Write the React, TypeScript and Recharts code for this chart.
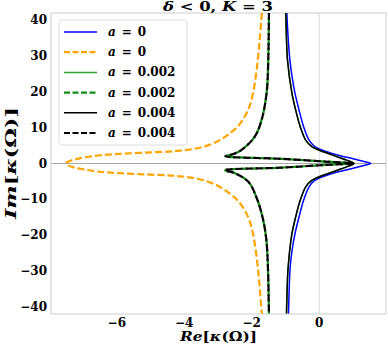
import { LineChart, Line, XAxis, YAxis, ReferenceLine } from "recharts";

// curves as [Re, Im] pairs, ordered from top (Im = +42) to bottom
const blueSolidA0: [number, number][] = [
  [-0.96, 42], [-0.92, 35], [-0.87, 28.9], [-0.8, 24], [-0.72, 19.7], [-0.6, 15],
  [-0.46, 10.2], [-0.3, 6.5], [-0.13, 4.7], [0.38, 2.8], [1.06, 1.2], [1.35, 0.5], [1.53, 0],
  [1.35, -0.5], [1.06, -1.2], [0.38, -2.8], [-0.13, -4.7], [-0.3, -6.5], [-0.46, -10.2],
  [-0.6, -15], [-0.72, -19.7], [-0.8, -24], [-0.86, -28.9], [-0.89, -35], [-0.91, -42],
];

const orangeDashedA0: [number, number][] = [
  [-1.7, 42], [-1.76, 35], [-1.82, 28.9], [-1.96, 19.7], [-2.11, 14.9], [-2.38, 10.7],
  [-2.64, 8.5], [-3.05, 6.0], [-3.55, 4.4], [-4.2, 3.5], [-5.0, 3.1], [-5.9, 2.7],
  [-6.5, 2.3], [-6.95, 1.7], [-7.25, 1.1], [-7.45, 0.5], [-7.5, 0],
  [-7.45, -0.5], [-7.25, -1.1], [-6.95, -1.7], [-6.5, -2.3], [-5.9, -2.7], [-5.0, -3.1],
  [-4.2, -3.5], [-3.55, -4.4], [-3.05, -6.0], [-2.64, -8.5], [-2.38, -10.7], [-2.11, -14.9],
  [-1.96, -19.7], [-1.82, -28.9], [-1.76, -35], [-1.7, -42],
];

const blackSolidA4: [number, number][] = [
  [-0.99, 42], [-0.97, 35], [-0.94, 28.9], [-0.81, 19.7], [-0.7, 15], [-0.56, 10.2],
  [-0.4, 6.5], [-0.22, 4.7], [0.38, 2.4], [0.85, 0.8], [1.03, 0], [0.85, -0.8], [0.38, -2.4],
  [-0.22, -4.7], [-0.4, -6.5], [-0.56, -10.2], [-0.7, -15], [-0.81, -19.7], [-0.92, -28.9],
  [-0.95, -35], [-0.97, -42],
];

const blackDashedA4: [number, number][] = [
  [-1.49, 42], [-1.51, 28.9], [-1.56, 19.6], [-1.71, 12.1], [-1.91, 7.5], [-2.3, 3.8],
  [-2.56, 2.6], [-2.78, 2.05], [-1.11, 1.3], [0.17, 0.55], [1.0, 0.05], [0.17, -0.4],
  [-1.11, -1.15], [-2.79, -1.9], [-2.5, -2.7], [-2.1, -5.1], [-1.85, -9.7], [-1.68, -15],
  [-1.57, -21], [-1.52, -28.9], [-1.49, -42],
];

// a = 0.002 lies on top of a = 0.004 at this scale
const greenSolidA2 = blackSolidA4;
const greenDashedA2 = blackDashedA4;

const xTicks = [-6, -4, -2, 0];
const yTicks = [-40, -30, -20, -10, 0, 10, 20, 30, 40];

const toPts = (arr: [number, number][]) => arr.map(([x, y]) => ({ x, y }));

// centripetal Catmull-Rom, passed to Line as a d3 curve factory
function catmullRom(context: any) {
  let pts: number[][] = [];
  const dist = (a: number[], b: number[]) => Math.sqrt(Math.hypot(a[0] - b[0], a[1] - b[1]));
  return {
    areaStart() {},
    areaEnd() {},
    lineStart() {
      pts = [];
    },
    point(x: number, y: number) {
      pts.push([+x, +y]);
    },
    lineEnd() {
      const n = pts.length;
      if (!n) return;
      context.moveTo(pts[0][0], pts[0][1]);
      for (let i = 0; i < n - 1; i++) {
        const p1 = pts[i];
        const p2 = pts[i + 1];
        const p0 = i > 0 ? pts[i - 1] : p1;
        const p3 = i + 2 < n ? pts[i + 2] : p2;
        const l01 = dist(p0, p1);
        const l12 = dist(p1, p2);
        const l23 = dist(p2, p3);
        let c1 = p1;
        let c2 = p2;
        if (l01 > 1e-6) {
          const a = 2 * l01 * l01 + 3 * l01 * l12 + l12 * l12;
          const m = 3 * l01 * (l01 + l12);
          c1 = [0, 1].map((k) => (p1[k] * a - p0[k] * l12 * l12 + p2[k] * l01 * l01) / m);
        }
        if (l23 > 1e-6) {
          const b = 2 * l23 * l23 + 3 * l23 * l12 + l12 * l12;
          const m = 3 * l23 * (l23 + l12);
          c2 = [0, 1].map((k) => (p2[k] * b + p1[k] * l23 * l23 - p3[k] * l12 * l12) / m);
        }
        context.bezierCurveTo(c1[0], c1[1], c2[0], c2[1], p2[0], p2[1]);
      }
    },
  };
}

const series = [
  { key: "blue", label: "0", pts: blueSolidA0, color: "#0000ff", dashed: false },
  { key: "orange", label: "0", pts: orangeDashedA0, color: "#ffa500", dashed: true },
  { key: "greenS", label: "0.002", pts: greenSolidA2, color: "#2ca02c", dashed: false },
  { key: "greenD", label: "0.002", pts: greenDashedA2, color: "#138a13", dashed: true },
  { key: "blackS", label: "0.004", pts: blackSolidA4, color: "#000000", dashed: false },
  { key: "blackD", label: "0.004", pts: blackDashedA4, color: "#000000", dashed: true },
];

const font = "'DejaVu Serif', serif";
const minus = (v: number) => (v < 0 ? "\u2212" + Math.abs(v) : String(v));

const XTick = (props: any) => (
  <text x={props.x} y={props.y + 11} textAnchor="middle" fontFamily={font} fontWeight="bold" fontSize={12} fill="#000">
    {minus(props.payload.value)}
  </text>
);

const YTick = (props: any) => (
  <text x={props.x - 2} y={props.y + 4} textAnchor="end" fontFamily={font} fontWeight="bold" fontSize={12} fill="#000">
    {minus(props.payload.value)}
  </text>
);

export default function App() {
  return (
    <div style={{ position: "absolute", left: 0, top: 0, width: 388, height: 346, background: "#fff" }}>
      <LineChart width={388} height={346} margin={{ top: 13, right: 2, bottom: 0, left: 0 }}>
        <XAxis
          type="number"
          dataKey="x"
          domain={[-7.95, 1.98]}
          allowDataOverflow
          ticks={xTicks}
          tick={XTick}
          tickLine={false}
          tickSize={0}
          height={32}
          axisLine={{ stroke: "#cccccc" }}
        />
        <YAxis
          type="number"
          domain={[-42, 42]}
          allowDataOverflow
          ticks={yTicks}
          tick={YTick}
          tickLine={false}
          tickSize={0}
          width={51}
          axisLine={{ stroke: "#cccccc" }}
        />
        <ReferenceLine y={42} stroke="#cccccc" />
        <ReferenceLine x={1.98} stroke="#cccccc" />
        <ReferenceLine x={0} stroke="#d8d8d8" />
        <ReferenceLine y={0} stroke="#a8a8a8" />
        {series.map((s) => (
          <Line
            key={s.key}
            data={toPts(s.pts)}
            dataKey="y"
            type={catmullRom as any}
            stroke={s.color}
            strokeWidth={s.dashed ? 2.2 : 1.5}
            strokeDasharray={s.dashed ? "7 3" : undefined}
            strokeDashoffset={s.key === "greenD" ? 5 : 0}
            dot={false}
            activeDot={false}
            isAnimationActive={false}
          />
        ))}
      </LineChart>
      <svg
        width={388}
        height={346}
        style={{ position: "absolute", left: 0, top: 0, pointerEvents: "none" }}
        fontFamily={font}
        fontWeight="bold"
      >
        <text x={218} y={11} textAnchor="middle" fontSize={12.5} textLength={110} lengthAdjust="spacingAndGlyphs">
          <tspan fontStyle="italic">δ</tspan>
          {" < 0, "}
          <tspan fontStyle="italic">K</tspan>
          {" = 3"}
        </text>
        <text x={218.5} y={341} textAnchor="middle" fontSize={13.5} textLength={77} lengthAdjust="spacingAndGlyphs">
          <tspan fontStyle="italic">Re</tspan>[<tspan fontStyle="italic">κ</tspan>(Ω)]
        </text>
        <text
          transform="translate(16,163) rotate(-90)"
          textAnchor="middle"
          fontSize={15}
          textLength={112}
          lengthAdjust="spacingAndGlyphs"
        >
          <tspan fontStyle="italic">Im</tspan>[<tspan fontStyle="italic">κ</tspan>(Ω)]
        </text>
        <rect x={59} y={20} width={128} height={125} rx={3} fill="rgba(255,255,255,0.8)" stroke="#dddddd" />
        {series.map((s, i) => {
          const cy = 32 + i * 20.2;
          return (
            <g key={s.key}>
              <line
                x1={64}
                x2={97}
                y1={cy}
                y2={cy}
                stroke={s.color}
                strokeWidth={s.dashed ? 2.2 : 1.5}
                strokeDasharray={s.dashed ? "6 2.5" : undefined}
              />
              <text x={108} y={cy + 4} fontSize={12}>
                <tspan fontStyle="italic">a</tspan>
                {"\u2002=\u2002" + s.label}
              </text>
            </g>
          );
        })}
      </svg>
    </div>
  );
}
